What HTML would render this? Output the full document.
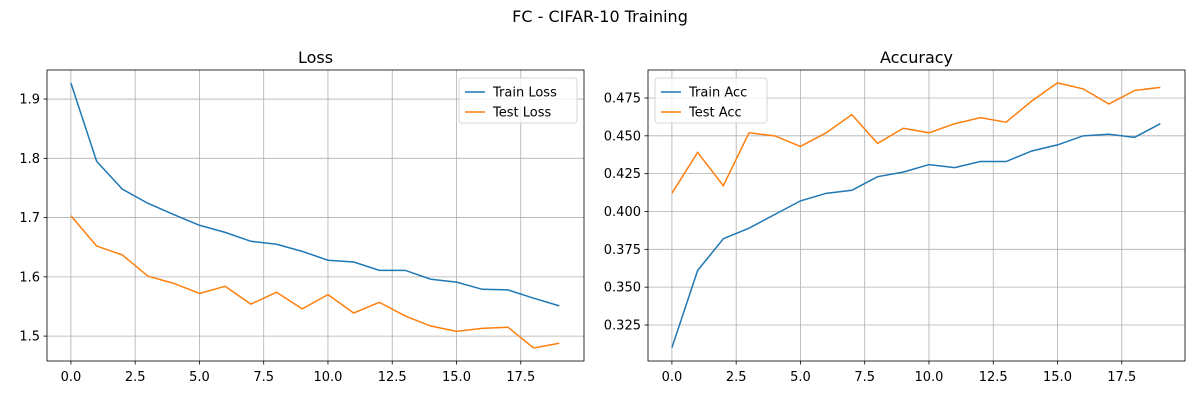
<!DOCTYPE html>
<html><head><meta charset="utf-8"><style>
body{margin:0;background:#fff;font-family:"Liberation Sans","DejaVu Sans",sans-serif}
svg text{font-family:"DejaVu Sans","Liberation Sans",sans-serif}
</style></head><body>
<svg id="svg" width="1200" height="400" xmlns="http://www.w3.org/2000/svg">
<text x="600" y="22" text-anchor="middle" font-size="16">FC - CIFAR-10 Training</text>
</svg>
<script>
const epochs=[0,1,2,3,4,5,6,7,8,9,10,11,12,13,14,15,16,17,18,19];
const trainLoss=[1.927,1.795,1.748,1.724,1.705,1.687,1.675,1.660,1.655,1.643,1.628,1.625,1.611,1.611,1.596,1.591,1.579,1.578,1.564,1.551];
const testLoss=[1.703,1.652,1.637,1.601,1.589,1.572,1.584,1.554,1.574,1.546,1.570,1.539,1.557,1.534,1.517,1.508,1.513,1.515,1.480,1.488];
const trainAcc=[0.310,0.361,0.382,0.389,0.398,0.407,0.412,0.414,0.423,0.426,0.431,0.429,0.433,0.433,0.440,0.444,0.450,0.451,0.449,0.458];
const testAcc=[0.412,0.439,0.417,0.452,0.450,0.443,0.452,0.464,0.445,0.455,0.452,0.458,0.462,0.459,0.473,0.485,0.481,0.471,0.480,0.482];
const xTicks=[0,2.5,5,7.5,10,12.5,15,17.5];
const lossTicks=[1.5,1.6,1.7,1.8,1.9];
const accTicks=[0.325,0.35,0.375,0.4,0.425,0.45,0.475];
const NS="http://www.w3.org/2000/svg";
const svg=document.getElementById('svg');
function mk(tag,attrs,parent){const e=document.createElementNS(NS,tag);for(const k in attrs)e.setAttribute(k,attrs[k]);(parent||svg).appendChild(e);return e;}
function panel(o){
  const g=mk('g',{});
  
  
  const sx=v=>o.x0+(v-o.xmin)/(o.xmax-o.xmin)*(o.x1-o.x0);
  const sy=v=>o.y1-(v-o.ymin)/(o.ymax-o.ymin)*(o.y1-o.y0);
  xTicks.forEach(t=>{const x=sx(t);
    mk('line',{x1:x,x2:x,y1:o.y0,y2:o.y1,stroke:'#b0b0b0','stroke-width':0.8},g);
    mk('line',{x1:x,x2:x,y1:o.y1,y2:o.y1+3.5,stroke:'#000','stroke-width':0.8},g);
    const tx=mk('text',{x:x,y:o.y1+20,'text-anchor':'middle','font-size':13},g);tx.textContent=t.toFixed(1);
    
    
  });
  o.yTicks.forEach(t=>{const y=sy(t);
    mk('line',{x1:o.x0,x2:o.x1,y1:y,y2:y,stroke:'#b0b0b0','stroke-width':0.8},g);
    mk('line',{x1:o.x0-3.5,x2:o.x0,y1:y,y2:y,stroke:'#000','stroke-width':0.8},g);
    const tx=mk('text',{x:o.x0-7,y:y+4.5,'text-anchor':'end','font-size':13},g);tx.textContent=t.toFixed(o.dec);
    
    
  });
  const colors=['#1f77b4','#ff7f0e'];
  o.series.forEach((s,i)=>{
    const p=mk('polyline',{points:epochs.map((e,j)=>sx(e)+','+sy(s[j])).join(' '),fill:'none',stroke:colors[i],'stroke-width':1.5},g);
    
    
  });
  mk('rect',{x:o.x0,y:o.y0,width:o.x1-o.x0,height:o.y1-o.y0,fill:'none',stroke:'#000','stroke-width':0.8},g);
  const t=mk('text',{x:(o.x0+o.x1)/2,y:o.y0-7,'text-anchor':'middle','font-size':16},g);t.textContent=o.title;
  
  
  const lg=mk('g',{},g);
  
  
  mk('rect',{x:o.lx,y:78,width:o.lw,height:45,rx:3,fill:'#fff','fill-opacity':0.8,stroke:'#cccccc','stroke-width':0.8},lg);
  o.labels.forEach((l,i)=>{const y=92+i*20;
    mk('line',{x1:o.lx+6,x2:o.lx+26,y1:y,y2:y,stroke:colors[i],'stroke-width':1.5},lg);
    const tx=mk('text',{x:o.lx+34,y:y+4.5,'font-size':13},lg);tx.textContent=l;
    
    
  });
}
panel({name:'loss',title:'Loss',x0:47,x1:584,y0:70,y1:361,xmin:-0.93,xmax:19.96,ymin:1.458,ymax:1.949,yTicks:lossTicks,dec:1,series:[trainLoss,testLoss],labels:['Train Loss','Test Loss'],lx:459,lw:118});
panel({name:'accuracy',title:'Accuracy',x0:648,x1:1185,y0:70,y1:361,xmin:-0.93,xmax:19.96,ymin:0.3012,ymax:0.4935,yTicks:accTicks,dec:3,series:[trainAcc,testAcc],labels:['Train Acc','Test Acc'],lx:655,lw:112});
</script>
</body></html>
